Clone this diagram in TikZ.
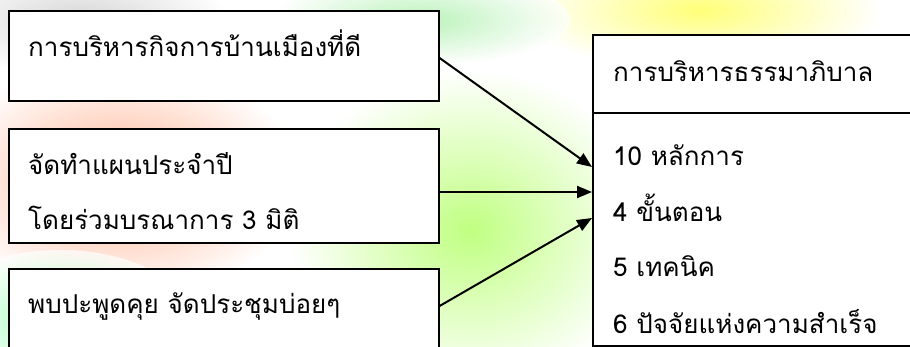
\documentclass[tikz,border=0pt]{standalone}
\usepackage{fontspec}
\setmainfont[Script=Thai]{Loma}
\usetikzlibrary{arrows.meta}
\tikzset{
  box/.style={draw=black, line width=1.6pt, fill=white, rectangle, inner sep=0pt},
  txt/.style={anchor=base west, inner sep=0pt, font=\fontsize{26}{30}\selectfont},
  arr/.style={line width=2pt, -{Triangle[length=15pt,width=12pt]}},
  blob/.style={opacity=0.7}
}
\begin{document}
\begin{tikzpicture}[x=1pt,y=-1pt]
\useasboundingbox (0,0) rectangle (910,347);
\clip (0,0) rectangle (910,347);
\fill[white] (0,0) rectangle (910,347);
% soft background
\shade[blob, inner color=red!40!orange!60, outer color=white] (120,180) ellipse (180 and 120);
\shade[blob, inner color=green!50!yellow!70, outer color=white] (470,230) ellipse (180 and 160);
\shade[blob, inner color=yellow!75, outer color=white] (700,10) ellipse (180 and 60);
\shade[blob, inner color=gray!45, outer color=white] (80,20) ellipse (150 and 55);
\shade[blob, inner color=cyan!25!green!45, outer color=white] (60,320) ellipse (130 and 70);
\shade[blob, inner color=gray!30!green!45, outer color=white] (420,20) ellipse (150 and 45);
% boxes
\node[box, minimum width=430pt, minimum height=90pt, anchor=north west] (b1) at (8,10) {};
\node[box, minimum width=430pt, minimum height=114pt, anchor=north west] (b2) at (8,128) {};
\node[box, minimum width=430pt, minimum height=110pt, anchor=north west] (b3) at (8,268) {};
\node[box, minimum width=330pt, minimum height=311pt, anchor=north west] (rb) at (592,34) {};
\draw[line width=1.6pt] (rb.west |- 0,113) coordinate (dl) -- (rb.east |- dl);
% texts
\node[txt] (t1) at (28,57) {การบริหารกิจการบ้านเมืองที่ดี};
\node[txt] (t2) at (28,175) {จัดทำแผนประจำปี};
\node[txt] (t3) at (28,230) {โดยร่วมบรณาการ 3 มิติ};
\node[txt] (t4) at (28,313) {พบปะพูดคุย จัดประชุมบ่อยๆ};
\node[txt] (r0) at (613,82) {การบริหารธรรมาภิบาล};
\node[txt] (r1) at (613,166) {10 หลักการ};
\node[txt] (r2) at (613,222) {4 ขั้นตอน};
\node[txt] (r3) at (613,277) {5 เทคนิค};
\node[txt] (r4) at (613,333) {6 ปัจจัยแห่งความสำเร็จ};
% arrow end points
\coordinate (s1) at (b1.east |- 0,58);
\coordinate (s2) at (b2.east |- 0,192);
\coordinate (s3) at (b3.east |- 0,306);
\coordinate (e1) at (rb.west |- 0,167);
\coordinate (e2) at (rb.west |- 0,192);
\coordinate (e3) at (rb.west |- 0,218);
\draw[arr] (s1) -- (e1);
\draw[arr] (s2) -- (e2);
\draw[arr] (s3) -- (e3);
\end{tikzpicture}
\end{document}
